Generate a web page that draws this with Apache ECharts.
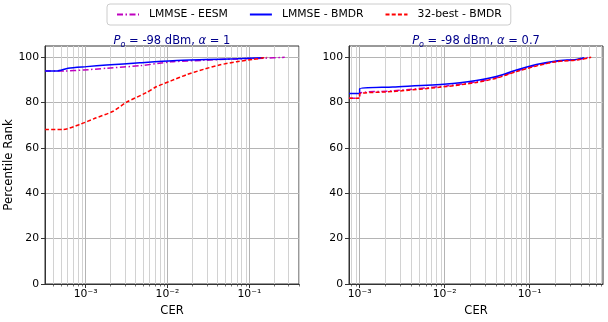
<!DOCTYPE html>
<html>
<head>
<meta charset="utf-8">
<script src="https://cdn.jsdelivr.net/npm/echarts@6/dist/echarts.min.js"></script>
<style>
html,body{margin:0;padding:0;background:#fff;}
#chart{width:608px;height:322px;}
</style>
</head>
<body>
<div id="chart"></div>
<script>
// ---- data ----
const seriesNames = ['LMMSE - EESM', 'LMMSE - BMDR', '32-best - BMDR'];
const yTicks = [0, 20, 40, 60, 80, 100];
const xTicks = [0.001, 0.01, 0.1];

// Left panel: Po = -98 dBm, alpha = 1
const cerL_eesm = [3.2e-4, 5.6e-4, 9.4e-4, 1.8e-3, 4.6e-3, 1.1e-2, 2.75e-2, 7e-2, 0.15, 0.27];
const prL_eesm  = [94.0, 94.0, 94.4, 95.2, 96.3, 98.0, 98.7, 99.3, 99.6, 100];
const cerL_bmdr = [3.2e-4, 4.4e-4, 6.1e-4, 1.03e-3, 1.8e-3, 4.6e-3, 1.16e-2, 3e-2, 7e-2, 0.148];
const prL_bmdr  = [94.0, 94.0, 95.2, 95.9, 96.6, 97.6, 98.5, 99.0, 99.4, 99.8];
const cerL_best = [3.2e-4, 5.3e-4, 8.5e-4, 1.3e-3, 2.17e-3, 3.16e-3, 5.5e-3, 7.3e-3, 1.1e-2, 1.7e-2, 2.75e-2, 4.3e-2, 7e-2, 0.112, 0.15, 0.165];
const prL_best  = [68.2, 68.2, 70.4, 73.1, 76.2, 80.2, 84.4, 87.0, 89.6, 92.3, 94.7, 96.6, 98.1, 99.1, 99.8, 100];

// Right panel: Po = -98 dBm, alpha = 0.7
const cerR_eesm = [7.5e-4, 1e-3, 1e-3, 2.46e-3, 1.05e-2, 2.36e-2, 4.05e-2, 7e-2, 0.12, 0.206, 0.355, 0.5];
const prR_eesm  = [82.0, 82.0, 84.2, 85.2, 87.4, 89.2, 91.0, 93.9, 96.4, 98.2, 98.9, 100];
const cerR_bmdr = [7.5e-4, 1e-3, 1e-3, 2.46e-3, 1.05e-2, 2.36e-2, 4.05e-2, 7e-2, 0.12, 0.206, 0.355, 0.44];
const prR_bmdr  = [84.0, 84.0, 86.1, 86.9, 88.2, 89.8, 91.5, 94.4, 96.8, 98.4, 99.1, 99.8];
const cerR_best = [7.5e-4, 1e-3, 1e-3, 2.46e-3, 1.05e-2, 2.36e-2, 4.05e-2, 7e-2, 0.12, 0.206, 0.355, 0.53];
const prR_best  = [82.0, 82.0, 83.9, 84.9, 87.1, 88.9, 90.8, 93.7, 96.2, 98.1, 98.8, 100];

const xMinL = 3.19e-4, xMaxL = 0.404;
const xMinR = 7.5e-4, xMaxR = 0.73;
const yMin = 0, yMax = 105;

// minor log grid positions (2..9 x 10^k)
function minorVals(lo, hi) {
  const out = [];
  for (let e = -5; e <= 1; e++) {
    for (let m = 2; m <= 9; m++) {
      const v = m * Math.pow(10, e);
      if (v > lo && v < hi) out.push(v);
    }
  }
  return out;
}

const FONT = 'DejaVu Sans';
const zip = (xs, ys) => xs.map((x, i) => [x, ys[i]]);
const supMap = {'-': '\u207B', '0': '\u2070', '1': '\u00B9', '2': '\u00B2', '3': '\u00B3'};
function logLabel(v) {
  const e = Math.round(Math.log10(v));
  return '10' + String(e).split('').map(c => supMap[c] || c).join('');
}

const styles = [
  {color: '#bf00bf', type: [6, 2.5, 1.5, 2.5]},
  {color: '#0000ff', type: 'solid'},
  {color: '#ff0000', type: [4, 2.2]}
];

function lineSeries(idx, name, data) {
  const s = styles[seriesNames.indexOf(name)];
  return {
    type: 'line', name: name, xAxisIndex: idx, yAxisIndex: idx,
    data: data, showSymbol: false, symbol: 'none', smooth: 0.25,
    z: 5,
    lineStyle: {width: 1.5, color: s.color, type: s.type},
    itemStyle: {color: s.color},
    animation: false
  };
}

function minorSeries(idx, vals) {
  return {
    type: 'custom', xAxisIndex: idx, yAxisIndex: idx, silent: true, z: 1,
    data: vals.map(v => [v, 0]),
    encode: {x: 0, y: 1},
    renderItem: function (params, api) {
      const x = api.value(0);
      const top = api.coord([x, yMax]);
      const bot = api.coord([x, yMin]);
      const px = Math.round(bot[0]) + 0.5;
      return {type: 'group', children: [
        {type: 'line', shape: {x1: px, y1: top[1], x2: px, y2: bot[1]}, style: {stroke: '#d2d2d2', lineWidth: 1}},
        {type: 'line', shape: {x1: px, y1: bot[1], x2: px, y2: bot[1] + 2.5}, style: {stroke: '#333', lineWidth: 0.7}}
      ]};
    },
    animation: false
  };
}

function xAxisCfg(idx, min, max) {
  return {
    type: 'log', gridIndex: idx, min: min, max: max, logBase: 10,
    name: 'CER', nameLocation: 'middle', nameGap: 21,
    nameTextStyle: {fontFamily: FONT, fontSize: 11.5, color: '#000'},
    axisLine: {show: true, lineStyle: {color: '#333', width: 1}},
    axisTick: {show: true, length: 4, lineStyle: {color: '#333'}, customValues: xTicks},
    axisLabel: {fontFamily: FONT, fontSize: 10.8, color: '#000', margin: 5, customValues: xTicks, formatter: logLabel},
    splitLine: {show: true, lineStyle: {color: '#b4b4b4', width: 1}},
    minorTick: {show: false}, minorSplitLine: {show: false}
  };
}

function yAxisCfg(idx) {
  return {
    type: 'value', gridIndex: idx, min: yMin, max: yMax, interval: 20,
    name: idx === 0 ? 'Percentile Rank' : '', nameLocation: 'middle', nameGap: 29,
    nameTextStyle: {fontFamily: FONT, fontSize: 11.8, color: '#000'},
    axisLine: {show: true, lineStyle: {color: '#333', width: 1}},
    axisTick: {show: true, length: 4, lineStyle: {color: '#333'}, customValues: yTicks},
    axisLabel: {fontFamily: FONT, fontSize: 10.8, color: '#000', margin: 6, customValues: yTicks},
    splitLine: {show: true, lineStyle: {color: '#b4b4b4', width: 1}}
  };
}

function titleCfg(x, alphaTxt) {
  const base = {fontFamily: FONT, fontWeight: 'normal', color: '#00008b'};
  return {
    text: '{i|P}{sub|o}{n| = -98 dBm, }{i|\u03B1}{n| = ' + alphaTxt + '}',
    left: x, top: 29, textAlign: 'center',
    textStyle: Object.assign({}, base, {
      fontSize: 11.5,
      rich: {
        i: Object.assign({}, base, {fontStyle: 'italic', fontSize: 11.5, lineHeight: 15}),
        n: Object.assign({}, base, {fontSize: 11.5, lineHeight: 15}),
        sub: Object.assign({}, base, {fontStyle: 'italic', fontSize: 8, lineHeight: 8, verticalAlign: 'bottom'})
      }
    })
  };
}

const chart = echarts.init(document.getElementById('chart'), null, {renderer: 'canvas'});
chart.setOption({
  animation: false,
  backgroundColor: '#fff',
  title: [titleCfg(167, '1'), titleCfg(471, '0.7')],
  legend: {
    data: seriesNames, top: 4, left: 107,
    itemWidth: 22, itemHeight: 10, itemGap: 21,
    itemStyle: {opacity: 0},
    padding: [5, 9], borderColor: '#cccccc', borderWidth: 1, borderRadius: 3,
    backgroundColor: '#fff',
    textStyle: {fontFamily: FONT, fontSize: 10.8, color: '#000', padding: [0, 0, 0, 5]}
  },
  grid: [
    {left: 45, top: 46, width: 254, height: 238, show: true, borderColor: '#333', borderWidth: 1, backgroundColor: 'transparent'},
    {left: 349, top: 46, width: 254, height: 238, show: true, borderColor: '#333', borderWidth: 1, backgroundColor: 'transparent'}
  ],
  xAxis: [xAxisCfg(0, xMinL, xMaxL), xAxisCfg(1, xMinR, xMaxR)],
  yAxis: [yAxisCfg(0), yAxisCfg(1)],
  series: [
    minorSeries(0, minorVals(xMinL, xMaxL)),
    minorSeries(1, minorVals(xMinR, xMaxR)),
    lineSeries(0, seriesNames[0], zip(cerL_eesm, prL_eesm)),
    lineSeries(0, seriesNames[1], zip(cerL_bmdr, prL_bmdr)),
    lineSeries(0, seriesNames[2], zip(cerL_best, prL_best)),
    lineSeries(1, seriesNames[0], zip(cerR_eesm, prR_eesm)),
    lineSeries(1, seriesNames[1], zip(cerR_bmdr, prR_bmdr)),
    lineSeries(1, seriesNames[2], zip(cerR_best, prR_best))
  ]
});
</script>
</body>
</html>
